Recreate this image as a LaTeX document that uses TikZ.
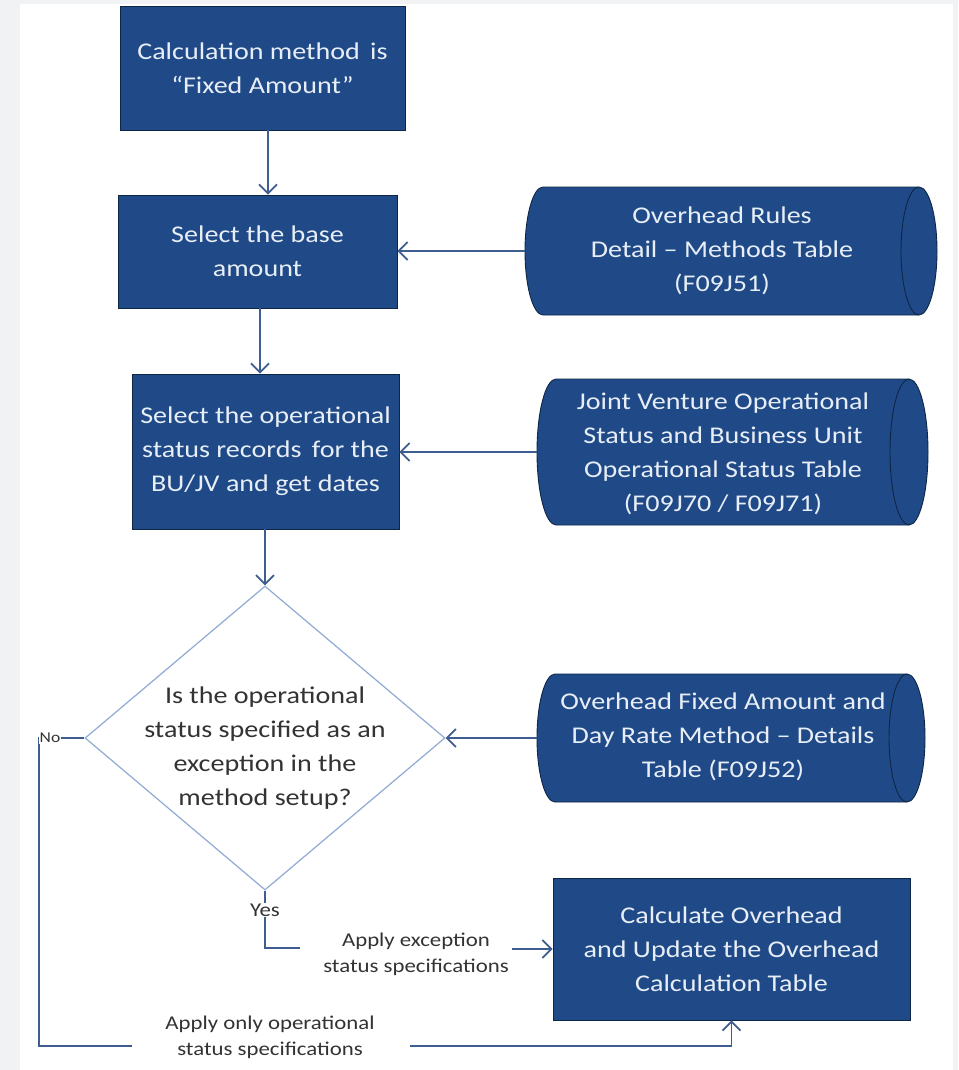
\documentclass[tikz,border=0pt]{standalone}
\usepackage{fontspec}
\setmainfont{Carlito}[FakeStretch=1.17]
\usetikzlibrary{arrows.meta,shapes.geometric,calc}
\definecolor{boxblue}{HTML}{1F4A87}
\definecolor{boxedge}{HTML}{0E2646}
\definecolor{conn}{HTML}{3E5E90}
\definecolor{diaedge}{HTML}{8FAAD6}
\definecolor{boxtext}{HTML}{E8EEF7}
\definecolor{graytext}{HTML}{333333}
\definecolor{outerbg}{HTML}{F1F2F4}
\tikzset{
  procbox/.style={draw=boxedge, line width=0.8pt, fill=boxblue, text=boxtext, inner sep=0pt, align=center,
    font=\fontsize{24}{34}\selectfont},
  cylfill/.style={draw=boxedge, line width=0.9pt, fill=boxblue},
  cyltext/.style={text=boxtext, align=center, inner sep=0pt, font=\fontsize{24}{34}\selectfont},
  ghost/.style={inner sep=0pt, outer sep=0pt},
  conline/.style={draw=conn, line width=1.8pt},
  arr/.style={conline, -{Straight Barb[length=9pt,width=18pt]}},
  lbl/.style={fill=white, text=graytext, inner sep=1pt, align=center, font=\fontsize{19.5}{26}\selectfont},
}
\begin{document}
\begin{tikzpicture}[x=1pt,y=-1pt]
\useasboundingbox (0,0) rectangle (958,1070);
\fill[outerbg] (0,0) rectangle (958,1070);
\fill[white] (20,4) rectangle (953,1070);

% process boxes
\node[procbox, minimum width=285pt, minimum height=124pt] (box1) at (262.5,68) {Calculation method\, is\\“Fixed Amount”};
\node[procbox, minimum width=279pt, minimum height=113pt] (box2) at (257.5,251.5) {Select the base\\amount};
\node[procbox, minimum width=267pt, minimum height=155pt] (box3) at (265.5,451.5) {Select the operational\\status records\, for the\\BU/JV and get dates};
\node[procbox, minimum width=357pt, minimum height=142pt] (box4) at (731.5,949) {Calculate Overhead\\and Update the Overhead\\Calculation Table};

% cylinders
\path[cylfill] (543,187) arc[start angle=90,end angle=270,x radius=18pt,y radius=64pt] -- (919,315)
  arc[start angle=270,end angle=450,x radius=18pt,y radius=64pt] -- cycle;
\draw[boxedge, line width=0.9pt] (919,187) arc[start angle=90,end angle=270,x radius=18pt,y radius=64pt];
\node[ghost, minimum width=412pt, minimum height=128pt] (cyl1) at (731,251) {};
\node[cyltext] (cyl1t) at (722,251) {Overhead Rules\\Detail – Methods Table\\(F09J51)};

\path[cylfill] (556,379) arc[start angle=90,end angle=270,x radius=19pt,y radius=73pt] -- (909,525)
  arc[start angle=270,end angle=450,x radius=19pt,y radius=73pt] -- cycle;
\draw[boxedge, line width=0.9pt] (909,379) arc[start angle=90,end angle=270,x radius=19pt,y radius=73pt];
\node[ghost, minimum width=391pt, minimum height=146pt] (cyl2) at (732.5,452) {};
\node[cyltext] (cyl2t) at (723,454) {Joint Venture Operational\\Status and Business Unit\\Operational Status Table\\(F09J70 / F09J71)};

\path[cylfill] (555,674) arc[start angle=90,end angle=270,x radius=18pt,y radius=64pt] -- (907,802)
  arc[start angle=270,end angle=450,x radius=18pt,y radius=64pt] -- cycle;
\draw[boxedge, line width=0.9pt] (907,674) arc[start angle=90,end angle=270,x radius=18pt,y radius=64pt];
\node[ghost, minimum width=388pt, minimum height=128pt] (cyl3) at (731,738) {};
\node[cyltext] (cyl3t) at (723,737) {Overhead Fixed Amount and\\Day Rate Method – Details\\Table (F09J52)};

% decision
\node[diamond, draw=diaedge, line width=1.2pt, fill=white, minimum width=360pt, minimum height=304pt, inner sep=0pt] (dia) at (265,738) {};
\node[text=graytext, align=center, inner sep=0pt, font=\fontsize{24}{34}\selectfont] (diat) at (265,748) {Is the operational\\status specified as an\\exception in the\\method setup?};

% vertical flow
\draw[arr] (box1.south -| 268,0) -- (box2.north -| 268,0);
\draw[arr] (box2.south -| 260,0) -- (box3.north -| 260,0);
\draw[arr] (box3.south -| 265,0) -- (dia.north);

% inputs from tables
\draw[arr] (cyl1.west) -- (cyl1.west -| box2.east);
\draw[arr] (cyl2.west) -- (cyl2.west -| box3.east);
\draw[arr] (cyl3.west) -- (dia.east);

% Yes branch
\coordinate (ya) at (300,948);
\coordinate (yb) at (512,949);
\draw[conline] (dia.south) |- (ya);
\draw[arr] (yb) -- (box4.west);
\node[lbl] (yes) at (265,910) {Yes};
\node[lbl, fill=none] (exlbl) at (416,954) {Apply exception\\status specifications};

% No branch
\coordinate (na) at (39,1046);
\coordinate (nb) at (132,1046);
\coordinate (nc) at (410,1046);
\draw[conline] (dia.west) -| (na) -- (nb);
\draw[arr] (nc) -| (box4.south);
\node[lbl, font=\fontsize{15}{18}\selectfont] (no) at (50,738) {No};
\node[lbl, fill=none] (oplbl) at (270,1037) {Apply only operational\\status specifications};
\end{tikzpicture}
\end{document}
